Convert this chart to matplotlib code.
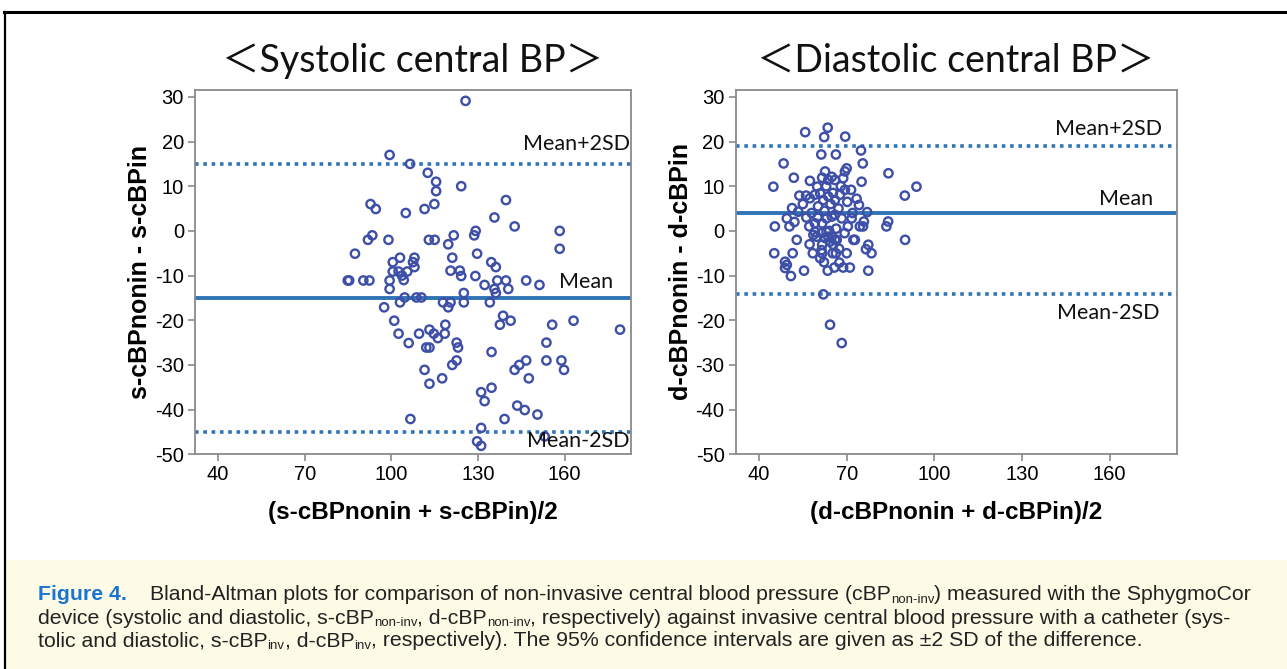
import matplotlib
matplotlib.use("Agg")
import matplotlib.pyplot as plt
from matplotlib.patches import Rectangle
from matplotlib.lines import Line2D

# --- data ---
sys_avg = [99.4, 106.5, 92.8, 94.6, 105.0, 93.4, 91.9, 99.0, 87.4, 103.0, 100.5,
           100.5, 102.5, 105.5, 103.7, 104.3, 84.9, 85.4, 90.3, 92.4, 99.4, 99.4, 104.6,
           97.5, 103.0, 101.0, 102.5, 106.0, 106.6,
           125.7, 112.6, 115.5, 115.5, 124.2, 111.5, 114.9, 139.7, 135.7, 142.7, 158.3, 158.3,
           113.0, 115.0, 121.6, 119.7, 129.2, 128.7, 129.7, 121.1, 134.6, 136.2, 108.0, 107.5,
           108.0, 120.5, 123.7, 124.2, 129.1,
           132.3, 136.7, 139.7, 140.5, 135.7, 136.2, 146.7, 151.3, 125.1, 125.1, 134.1, 117.9,
           119.7, 120.5, 108.7, 110.4, 138.7, 141.3, 137.6, 155.7, 163.1, 179.2,
           109.6, 113.2, 114.7, 116.1, 118.7, 118.5, 122.6, 123.1, 112.1, 113.2, 134.7, 153.7,
           153.7, 158.9, 159.8, 146.7, 144.3, 142.7, 147.6, 122.6, 121.1, 111.5, 113.2, 117.6,
           134.7, 131.1, 132.3, 143.6, 146.2, 150.6, 139.2, 131.1, 129.7, 131.1, 153.1]
sys_diff = [17.0, 15.0, 6.0, 4.9, 4.0, -1.0, -2.0, -2.0, -5.1, -6.0, -7.0,
            -9.1, -9.1, -9.1, -10.0, -11.0, -11.1, -11.1, -11.1, -11.1, -11.1, -13.0, -14.9,
            -17.1, -16.0, -20.1, -23.0, -25.1, -42.1,
            29.1, 13.0, 11.0, 8.9, 10.0, 4.9, 6.0, 6.9, 3.0, 1.0, 0.0, -4.0,
            -2.0, -2.0, -1.0, -3.0, 0.0, -1.0, -5.1, -6.0, -7.0, -8.1, -6.0, -7.0,
            -8.1, -8.9, -8.9, -10.1, -10.1,
            -12.1, -11.1, -11.1, -13.0, -13.0, -13.9, -11.1, -12.1, -13.9, -16.0, -16.0, -16.0,
            -17.1, -16.0, -14.9, -14.9, -19.0, -20.1, -21.0, -21.0, -20.1, -22.1,
            -23.0, -22.1, -23.0, -24.0, -21.0, -23.0, -25.0, -26.1, -26.1, -26.1, -27.1, -25.0,
            -29.0, -29.0, -31.1, -29.0, -30.0, -31.1, -33.0, -29.0, -30.0, -31.1, -34.2, -33.0,
            -35.1, -36.1, -38.1, -39.1, -40.1, -41.1, -42.1, -44.1, -47.1, -48.1, -46.0]

dia_avg = [63.5, 55.8, 62.3, 69.5, 61.3, 66.3, 74.9, 75.5, 48.4, 51.9, 44.9,
           57.4, 59.9, 61.6, 62.6, 63.7, 64.9, 66.0, 68.8, 69.4, 70.0, 75.1, 84.3, 93.9, 89.9,
           53.8, 56.1, 57.4, 59.1, 60.9, 62.0, 63.7, 66.0, 67.7, 69.4, 71.5, 73.4, 74.2,
           51.3, 53.4, 77.0, 49.5, 50.4, 52.1, 45.4, 57.2, 59.1, 61.6, 63.1, 64.9, 66.0, 68.3,
           71.7, 74.5, 75.6, 75.9, 83.6, 84.2, 90.0,
           52.9, 45.2, 51.5, 48.9, 49.5, 48.9, 50.9, 55.4,
           59.1, 58.6, 59.7, 61.4, 62.6, 63.1, 63.7, 64.9, 66.0, 64.3, 65.4, 66.6, 61.6, 61.4,
           58.4, 60.9, 61.6, 65.2, 66.3, 67.5, 63.5, 65.8, 68.8, 71.1, 72.3, 72.8, 77.4, 76.6,
           78.5, 77.4, 62.0, 64.3, 68.3,
           58.0, 60.2, 62.4, 64.5, 65.3, 67.2, 68.0, 70.2, 72.0, 63.0, 60.0, 66.4, 69.3, 70.4,
           56.2, 55.0, 57.3, 67.4, 70.0, 62.2, 64.0]
dia_diff = [23.1, 22.1, 21.0, 21.1, 17.1, 17.1, 18.0, 15.1, 15.1, 11.9, 9.9,
            11.2, 9.9, 11.9, 13.3, 11.4, 12.1, 11.4, 11.8, 13.3, 14.0, 11.0, 12.9, 9.9, 7.9,
            7.9, 7.9, 7.3, 8.1, 8.4, 6.9, 7.7, 6.9, 8.1, 9.2, 9.2, 7.2, 5.8,
            5.1, 4.3, 4.2, 2.8, 1.0, 2.0, 1.0, 1.0, 1.7, 1.7, 2.8, 3.2, 3.6, 2.8,
            2.8, 1.0, 1.0, 2.1, 1.0, 2.1, -2.0,
            -2.0, -5.0, -5.0, -6.9, -7.6, -8.3, -10.1, -8.9,
            -0.2, -0.9, -1.3, -0.5, -1.6, -0.2, -1.3, -1.3, -2.0, -2.4, -3.1, -2.0, -3.1, -4.3,
            -5.0, -6.1, -5.0, -5.0, -5.0, -7.1, -8.9, -8.2, -8.2, -8.2, -2.0, -2.0, -3.1, -4.1,
            -5.0, -8.9, -14.2, -21.0, -25.1,
            4.0, 5.5, 4.5, 6.0, 8.5, 5.0, 10.0, 6.5, 4.0, 10.0, 3.0, 0.5, -0.5, 1.0,
            3.0, 6.0, -3.0, -4.0, -5.0, -7.0, 0.0]

# mean and limits of agreement (mean, mean+2SD, mean-2SD)
sys_lines = [-15.0, 15.0, -45.0]
dia_lines = [4.0, 18.9, -14.1]

titles = ["＜Systolic central BP＞", "＜Diastolic central BP＞"]
ylabels = ["s-cBPnonin - s-cBPin", "d-cBPnonin - d-cBPin"]
xlabels = ["(s-cBPnonin + s-cBPin)/2", "(d-cBPnonin + d-cBPin)/2"]
xticks = [40, 70, 100, 130, 160]
yticks = [30, 20, 10, 0, -10, -20, -30, -40, -50]

plt.rcParams["axes.unicode_minus"] = False

LINE_C = "#2f74b5"
PT_C = "#3d4fa6"
SPINE_C = "#8a8a8a"

fig = plt.figure(figsize=(12.87, 6.69), dpi=100)
W, H = 1287, 669

def fx(px):
    return px / W

def fy(py):
    return 1 - py / H

# frame decorations of the figure page
fig.add_artist(Rectangle((fx(6), 0), 1, fy(560), transform=fig.transFigure,
                         facecolor="#fdfbe6", edgecolor="none", zorder=0))
fig.add_artist(Line2D([fx(4), 1], [fy(12), fy(12)], transform=fig.transFigure,
                      color="black", lw=2.2))
fig.add_artist(Line2D([fx(5), fx(5)], [0, fy(12)], transform=fig.transFigure,
                      color="black", lw=1.6))

# (x in axes fraction, line index, text, centre offset in data units)
panels = [
    (sys_avg, sys_diff, sys_lines, [fx(195), fy(454.3), fx(631) - fx(195), fy(89.7) - fy(454.3)],
     [(0.997, 1, "Mean+2SD", 4.4), (0.958, 0, "Mean", 3.6), (0.997, 2, "Mean-2SD", -2.0)]),
    (dia_avg, dia_diff, dia_lines, [fx(735.7), fy(454.3), fx(1176.7) - fx(735.7), fy(89.7) - fy(454.3)],
     [(0.966, 1, "Mean+2SD", 3.8), (0.946, 0, "Mean", 3.1), (0.962, 2, "Mean-2SD", -4.3)]),
]

for i, (xs, ys, lines, rect, labels) in enumerate(panels):
    ax = fig.add_axes(rect)
    ax.set_xlim(32.0, 183.0)
    ax.set_ylim(-50, 31.6)
    ax.axhline(lines[0], color=LINE_C, lw=2.8, zorder=2)
    ax.axhline(lines[1], color=LINE_C, lw=2.6, ls=(0, (1, 1.3)), zorder=2)
    ax.axhline(lines[2], color=LINE_C, lw=2.6, ls=(0, (1, 1.3)), zorder=2)
    ax.scatter(xs, ys, s=36, facecolors="none", edgecolors=PT_C, linewidths=1.7, zorder=3)
    for xa, k, txt, off in labels:
        ax.text(xa, lines[k] + off, txt, transform=ax.get_yaxis_transform(), ha="right",
                va="center", fontsize=15.5, family=["Lato", "DejaVu Sans"], color="#111111")
    ax.set_xticks(xticks)
    ax.set_yticks(yticks)
    ax.tick_params(direction="out", length=5, width=1.2, color=SPINE_C,
                   labelsize=14.5, pad=3)
    for lab in ax.get_xticklabels() + ax.get_yticklabels():
        lab.set_family("Liberation Sans")
    for sp in ax.spines.values():
        sp.set_color(SPINE_C)
        sp.set_linewidth(1.3)
    ax.set_xlabel(xlabels[i], fontsize=17.5, fontweight="bold", family="Liberation Sans", labelpad=12)
    ax.set_ylabel(ylabels[i], fontsize=18, fontweight="bold", family="Liberation Sans", labelpad=2)
    ax.set_title(titles[i], fontsize=27, family=["Lato", "Noto Sans CJK JP", "DejaVu Sans"],
                 pad=13, color="#111111")

# caption, drawn piece by piece so the subscripts sit right
cap_fs = 15.3
renderer = fig.canvas.get_renderer()

def caption_line(x0, yc, pieces):
    x = x0
    for txt, is_sub in pieces:
        fs = cap_fs * 0.62 if is_sub else cap_fs
        dy = -5 if is_sub else 0
        t = fig.text(fx(x), fy(yc - dy), txt, fontsize=fs, family="Liberation Sans",
                     color="#222222", va="center")
        x += t.get_window_extent(renderer).width

fig.text(fx(38), fy(595), "Figure 4.", fontsize=cap_fs, fontweight="bold", color="#1b74cf",
         family="Liberation Sans", va="center")
caption_line(150, 595, [("Bland-Altman plots for comparison of non-invasive central blood pressure (cBP", False),
                        ("non-inv", True),
                        (") measured with the SphygmoCor", False)])
caption_line(38, 618, [("device (systolic and diastolic, s-cBP", False), ("non-inv", True),
                       (", d-cBP", False), ("non-inv", True),
                       (", respectively) against invasive central blood pressure with a catheter (sys-", False)])
caption_line(38, 641, [("tolic and diastolic, s-cBP", False), ("inv", True), (", d-cBP", False), ("inv", True),
                       (", respectively). The 95% confidence intervals are given as ±2 SD of the difference.", False)])

fig.savefig("out.png", dpi=100)
